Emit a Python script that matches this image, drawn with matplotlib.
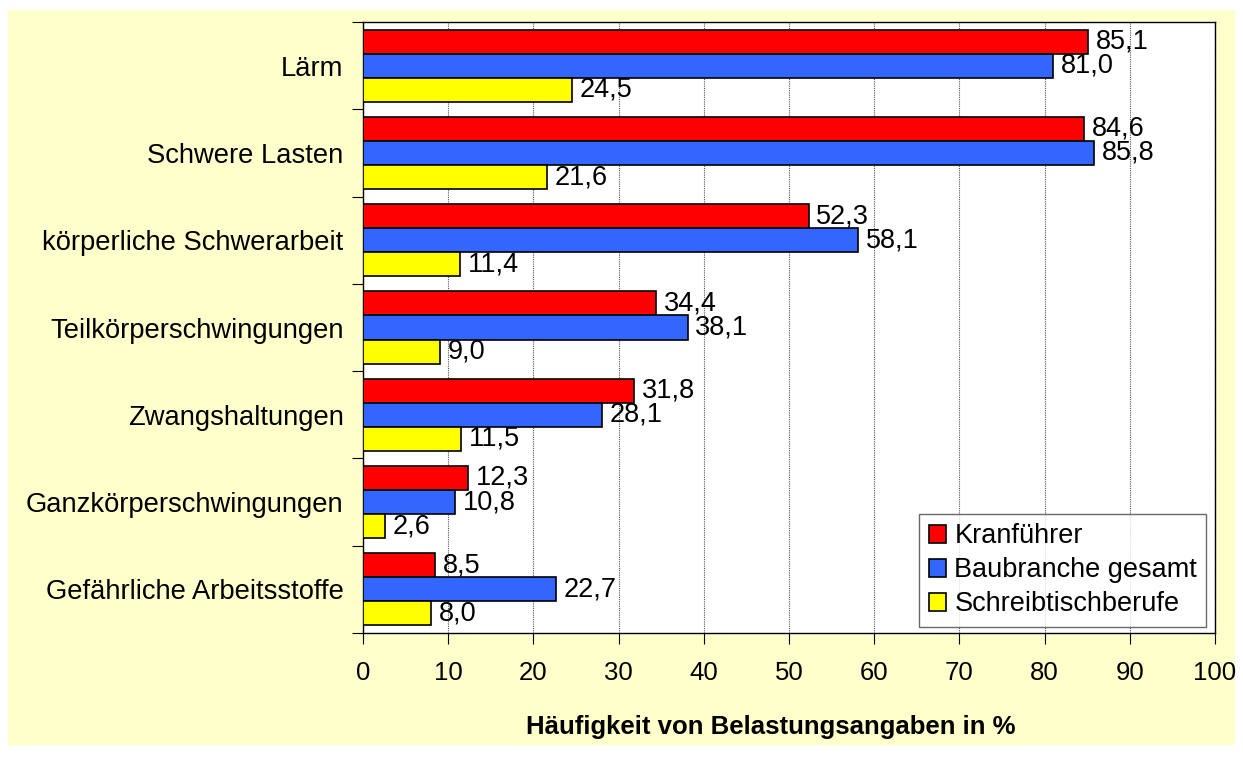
import numpy as np
import matplotlib.pyplot as plt
from matplotlib.patches import Rectangle

plt.rcParams['font.family'] = ['Liberation Sans', 'DejaVu Sans']

categories = ['Lärm', 'Schwere Lasten', 'körperliche Schwerarbeit',
              'Teilkörperschwingungen', 'Zwangshaltungen',
              'Ganzkörperschwingungen', 'Gefährliche Arbeitsstoffe']
kranfuehrer = [85.1, 84.6, 52.3, 34.4, 31.8, 12.3, 8.5]
baubranche = [81.0, 85.8, 58.1, 38.1, 28.1, 10.8, 22.7]
schreibtisch = [24.5, 21.6, 11.4, 9.0, 11.5, 2.6, 8.0]
series = ['Kranführer', 'Baubranche gesamt', 'Schreibtischberufe']
colors = ['#FF0000', '#3366FF', '#FFFF00']

fig = plt.figure(figsize=(12.43, 7.57), dpi=100)
fig.patch.set_facecolor('white')
fig.add_artist(Rectangle((8 / 1243, 1 - 745 / 757), 1227 / 1243, 735 / 757,
                         transform=fig.transFigure, facecolor='#FFFFCC',
                         edgecolor='none', zorder=-10))

ax = fig.add_axes([363 / 1243, 1 - 633 / 757, 852 / 1243, 611 / 757])
ax.set_zorder(1)
ax.set_facecolor('white')

y = np.arange(len(categories))
h = 0.276
for k, (vals, lab, col) in enumerate(zip([kranfuehrer, baubranche, schreibtisch], series, colors)):
    pos = y + (k - 1) * h
    ax.barh(pos, vals, height=h, color=col, edgecolor='black', linewidth=1.2,
            label=lab, zorder=3)
    for p, v in zip(pos, vals):
        ax.text(v + 0.9, p, f'{v:.1f}'.replace('.', ','), va='center', ha='left',
                fontsize=19.5, zorder=4)

ax.set_xlim(0, 100)
ax.set_ylim(len(categories) - 0.5, -0.5)
ax.set_xticks(np.arange(0, 101, 10))
ax.set_yticks(np.arange(-0.5, len(categories), 1))
ax.set_yticklabels([])
ax.set_yticks(y, minor=True)
ax.set_yticklabels(categories, minor=True, fontsize=19.7)
ax.tick_params(axis='y', which='minor', length=0, pad=14)
ax.tick_params(axis='y', which='major', length=8, direction='out')
ax.tick_params(axis='x', length=8, direction='out', pad=12, labelsize=18.5)
ax.xaxis.grid(True, linestyle=(0, (1, 1)), color='#555555', linewidth=0.8, zorder=0)
ax.set_axisbelow(True)
for s in ax.spines.values():
    s.set_linewidth(1.0)

ax.set_xlabel('Häufigkeit von Belastungsangaben in %', fontsize=18.5,
              fontweight='bold', labelpad=22)
ax.xaxis.label.set_x((771 - 363) / 852)

leg = ax.legend(loc='lower right', fontsize=19.5, frameon=True, fancybox=False,
                edgecolor='#444444', handlelength=0.65, handleheight=0.65,
                handletextpad=0.3, borderpad=0.35, labelspacing=0.3,
                borderaxespad=0, bbox_to_anchor=(0.99, 0.01))
leg.get_frame().set_linewidth(1.0)

fig.savefig('out.png', dpi=100)
